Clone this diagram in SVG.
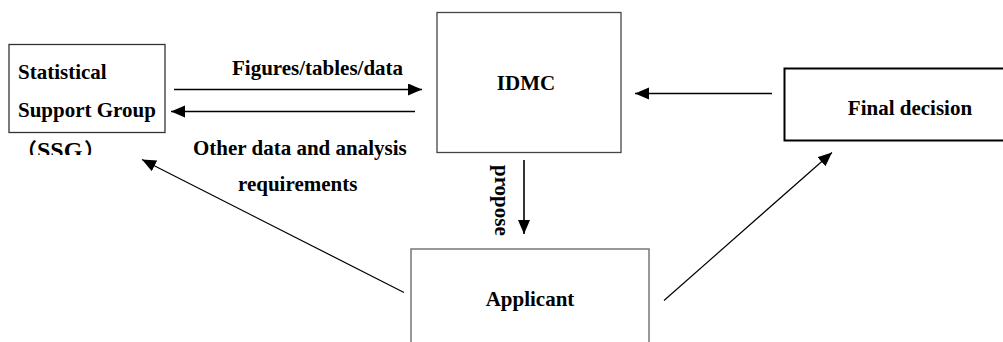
<svg xmlns="http://www.w3.org/2000/svg" width="1003" height="342" viewBox="0 0 1003 342">
<style>
.t{font-family:"Liberation Serif","Times New Roman","Noto Sans CJK SC",serif;font-weight:bold;font-size:21px;fill:#000}
.box{fill:#fff}
.c{stroke:#000;fill:none}
</style>
<defs>
<marker id="ah" markerUnits="userSpaceOnUse" markerWidth="16" markerHeight="14" refX="14" refY="6" orient="auto">
<path d="M0,0 L14,6 L0,12 Z" fill="#000"/>
</marker>
<clipPath id="ssgclip"><rect x="0" y="130" width="200" height="25"/></clipPath>
</defs>
<rect width="1003" height="342" fill="#fff"/>
<g id="connectors">
<line class="c" x1="174" y1="89.5" x2="422" y2="89.5" stroke-width="1.6" marker-end="url(#ah)"/>
<line class="c" x1="415" y1="111.5" x2="171" y2="111.5" stroke-width="1.6" marker-end="url(#ah)"/>
<line class="c" x1="772" y1="93.5" x2="635" y2="93.5" stroke-width="1.6" marker-end="url(#ah)"/>
<line class="c" x1="524" y1="160" x2="524" y2="234" stroke-width="1.6" marker-end="url(#ah)"/>
<line class="c" x1="404" y1="292.5" x2="142" y2="159.5" stroke-width="1.2" marker-end="url(#ah)"/>
<line class="c" x1="664" y1="300.5" x2="832" y2="152.5" stroke-width="1.2" marker-end="url(#ah)"/>
<text class="t" x="232" y="74.5">Figures/tables/data</text>
<text class="t" x="193" y="154.5">Other data and analysis</text>
<text class="t" x="238" y="191">requirements</text>
<text class="t" transform="translate(495,165) rotate(90)">propose</text>
</g>
<g id="ssg">
<rect class="box" x="9" y="44.5" width="156" height="88" stroke="#333" stroke-width="1.3"/>
<text class="t" x="18" y="78.5">Statistical</text>
<text class="t" x="18" y="117">Support Group</text>
<text class="t" y="158" clip-path="url(#ssgclip)"><tspan x="16">（</tspan><tspan x="37" font-size="24">SSG</tspan><tspan x="84">）</tspan></text>
</g>
<g id="idmc">
<rect class="box" x="437" y="12.5" width="184" height="140" stroke="#444" stroke-width="1.3"/>
<text class="t" x="526" y="89.5" text-anchor="middle">IDMC</text>
</g>
<g id="final">
<rect class="box" x="784.5" y="68.5" width="230" height="72" stroke="#000" stroke-width="2"/>
<text class="t" x="910" y="114.5" text-anchor="middle">Final decision</text>
</g>
<g id="applicant">
<rect class="box" x="411" y="249" width="238" height="110" stroke="#777" stroke-width="1.5"/>
<text class="t" x="530" y="306" text-anchor="middle">Applicant</text>
</g>
</svg>
